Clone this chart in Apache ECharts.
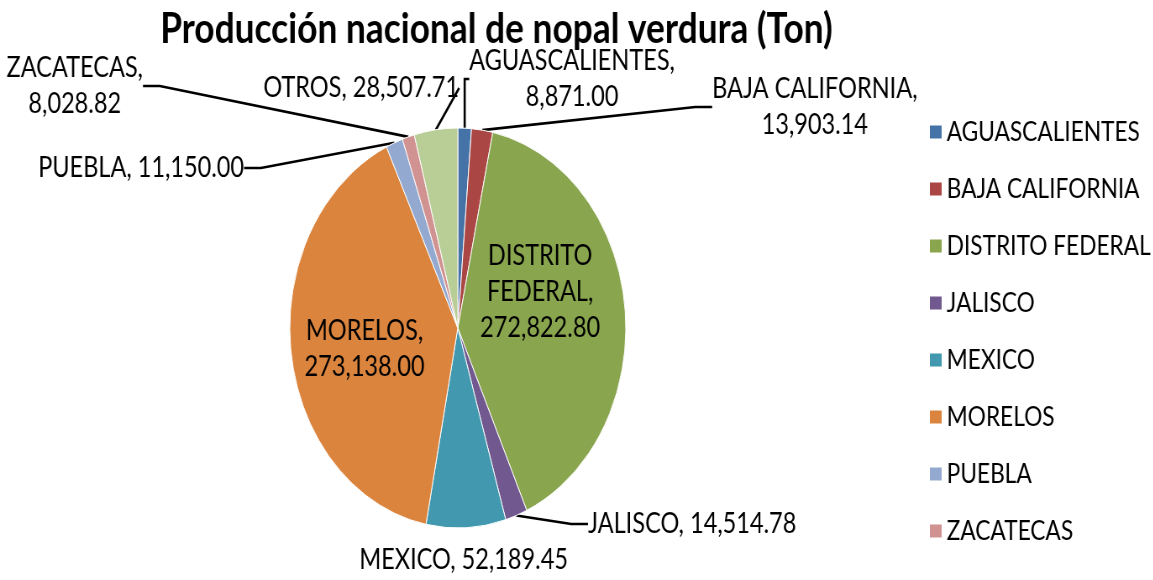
<!DOCTYPE html>
<html>
<head>
<meta charset="utf-8">
<script src="https://cdn.jsdelivr.net/npm/echarts@6/dist/echarts.min.js"></script>
<style>
html,body{margin:0;padding:0;background:#fff;overflow:hidden;width:1153px;height:580px;}
#wrap{width:1153px;height:580px;overflow:hidden;position:relative;}
#chart{width:1373px;height:580px;transform:scaleX(0.84);transform-origin:0 0;}
</style>
</head>
<body>
<div id="wrap"><div id="chart"></div></div>
<script>
// ---- data ----
const categories = ['AGUASCALIENTES','BAJA CALIFORNIA','DISTRITO FEDERAL','JALISCO','MEXICO','MORELOS','PUEBLA','ZACATECAS','OTROS'];
const values = [8871.00, 13903.14, 272822.80, 14514.78, 52189.45, 273138.00, 11150.00, 8028.82, 28507.71];
const legendItems = ['AGUASCALIENTES','BAJA CALIFORNIA','DISTRITO FEDERAL','JALISCO','MEXICO','MORELOS','PUEBLA','ZACATECAS'];
const titleText = 'Producción nacional de nopal verdura (Ton)';

// ---- styles / layout ----
const colors = ['#4572A7','#AA4643','#89A54E','#71588F','#4198AF','#DB843D','#93A9CF','#D19392','#B9CD96'];
const labelNames = {'DISTRITO FEDERAL':'DISTRITO\nFEDERAL'};
const labelSep = {'AGUASCALIENTES':',\n','BAJA CALIFORNIA':',\n','DISTRITO FEDERAL':',\n','MORELOS':',\n','ZACATECAS':',\n'};
const insideLabels = ['DISTRITO FEDERAL','MORELOS'];
const noLine = ['MEXICO'];
// label centres in unscaled chart pixels
const labelPos = {
  'AGUASCALIENTES':[681,79],
  'BAJA CALIFORNIA':[970,107],
  'DISTRITO FEDERAL':[643,292],
  'JALISCO':[824,524],
  'MEXICO':[552,560],
  'MORELOS':[434,349],
  'PUEBLA':[168,168],
  'ZACATECAS':[89,86],
  'OTROS':[430,88]
};
const FONT = 'Lato, "Open Sans", sans-serif';
const fmt = v => v.toLocaleString('en-US',{minimumFractionDigits:2,maximumFractionDigits:2});

const data = categories.map((n,i)=>({
  name:n,
  value:values[i],
  itemStyle:{color:colors[i]},
  label:{position: insideLabels.includes(n)?'inside':'outside'},
  labelLine:{show: !insideLabels.includes(n) && !noLine.includes(n)}
}));

const chart = echarts.init(document.getElementById('chart'), null, {renderer:'canvas'});
chart.setOption({
  animation:false,
  backgroundColor:'#fff',
  title:{
    text:titleText,
    left:586, top:3,
    textAlign:'center',
    textStyle:{fontFamily:FONT,fontWeight:'bold',fontSize:42,color:'#000'}
  },
  legend:{
    orient:'vertical',
    left:1100, top:112,
    data:legendItems,
    icon:'rect',
    itemWidth:16, itemHeight:15,
    itemGap:27,
    textStyle:{fontFamily:FONT,fontSize:27,lineHeight:30,color:'#000'}
  },
  series:[{
    type:'pie',
    center:[545,328],
    radius:200,
    startAngle:90,
    clockwise:true,
    avoidLabelOverlap:false,
    data:data,
    itemStyle:{borderColor:'#fff',borderWidth:1},
    label:{
      fontFamily:FONT,fontSize:28,lineHeight:36,color:'#000',
      formatter:p=>(labelNames[p.name]||p.name)+(labelSep[p.name]||', ')+fmt(p.value)
    },
    labelLine:{show:true,length:20,length2:20,lineStyle:{color:'#000',width:2.6}},
    labelLayout:function(p){
      const pos = labelPos[categories[p.dataIndex]];
      return {x:pos[0],y:pos[1],align:'center',verticalAlign:'middle'};
    },
    emphasis:{disabled:true}
  }]
});
</script>
</body>
</html>
